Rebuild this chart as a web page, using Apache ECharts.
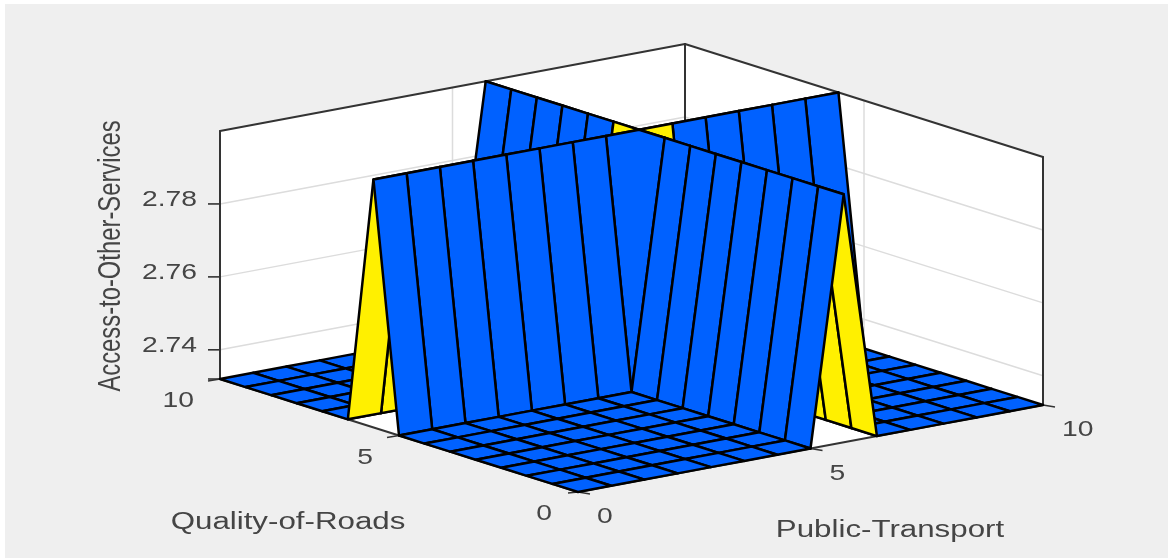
<!DOCTYPE html>
<html>
<head>
<meta charset="utf-8">
<style>html,body{margin:0;padding:0;background:#fff}#c{width:1168px;height:558px;filter:blur(0.5px)}</style>
<script src="https://cdn.jsdelivr.net/npm/echarts@6/dist/echarts.min.js"></script>
</head>
<body>
<div id="c"></div>
<script>
// ---- data ----
var publicTransport = [0, 0.714, 1.429, 2.143, 2.857, 3.571, 4.286, 5, 5.714, 6.429, 7.143, 7.857, 8.571, 9.286, 10];
var qualityOfRoads  = [0, 0.714, 1.429, 2.143, 2.857, 3.571, 4.286, 5, 5.714, 6.429, 7.143, 7.857, 8.571, 9.286, 10];
var rowLow  = [2.732, 2.732, 2.732, 2.732, 2.732, 2.732, 2.732, 2.732, 2.8, 2.732, 2.732, 2.732, 2.732, 2.732, 2.732];
var rowHigh = [2.8, 2.8, 2.8, 2.8, 2.8, 2.8, 2.8, 2.8, 2.8, 2.8, 2.8, 2.8, 2.8, 2.8, 2.8];
var accessToOtherServices = [
  rowLow, rowLow, rowLow, rowLow, rowLow, rowLow, rowLow, rowLow,
  rowHigh,
  rowLow, rowLow, rowLow, rowLow, rowLow, rowLow
];
var zTicks = [2.74, 2.76, 2.78];
var zTickLabels = ['2.74', '2.76', '2.78'];
var planTicks = [0, 5, 10];
var planTickLabels = ['0', '5', '10'];
var zLimits = [2.732, 2.8];
var planLimits = [0, 10];
var titles = { p: 'Public-Transport', q: 'Quality-of-Roads', z: 'Access-to-Other-Services' };

// ---- view: oblique projection of the MATLAB-style 3-D box ----
var view = { ox: 578, oy: 492, px: [46.5, -8.7], qy: [-35.8, -11.3], zh: 248 };
function project(p, q, z) {
  var t = (z - zLimits[0]) / (zLimits[1] - zLimits[0]);
  return [view.ox + p * view.px[0] + q * view.qy[0], view.oy + p * view.px[1] + q * view.qy[1] - t * view.zh];
}
var zLo = zLimits[0], zHi = zLimits[1], pMax = planLimits[1];
var BLUE = '#0061ff', YELLOW = '#fff000', AXIS = '#333333', GRID = '#dcdcdc', TEXT = '#454545';
var FONT = '22px "Liberation Sans", Arial, sans-serif';
var TITLE_FONT = '23px "Liberation Sans", Arial, sans-serif';
var STRETCH = 1.285;

// ---- derived tables ----
var cells = [];
for (var a = publicTransport.length - 2; a >= 0; a--) {
  for (var b = qualityOfRoads.length - 2; b >= 0; b--) {
    var r = accessToOtherServices;
    cells.push([publicTransport[a], publicTransport[a + 1], qualityOfRoads[b], qualityOfRoads[b + 1],
      r[b][a], r[b][a + 1], r[b + 1][a + 1], r[b + 1][a]]);
  }
}
function seg(p0, q0, z0, p1, q1, z1) { return [p0, q0, z0, p1, q1, z1]; }
var wallSegs = [];
zTicks.forEach(function (z) {
  wallSegs.push(seg(0, pMax, z, pMax, pMax, z), seg(pMax, pMax, z, pMax, 0, z));
});
planTicks.slice(1, 2).forEach(function (t) {
  wallSegs.push(seg(t, pMax, zLo, t, pMax, zHi), seg(pMax, t, zLo, pMax, t, zHi));
  wallSegs.push(seg(t, 0, zLo, t, pMax, zLo), seg(0, t, zLo, pMax, t, zLo));
});
var boxSegs = [
  seg(0, pMax, zLo, 0, pMax, zHi), seg(pMax, pMax, zLo, pMax, pMax, zHi), seg(pMax, 0, zLo, pMax, 0, zHi),
  seg(0, pMax, zHi, pMax, pMax, zHi), seg(pMax, pMax, zHi, pMax, 0, zHi),
  seg(0, 0, zLo, 0, pMax, zLo), seg(0, 0, zLo, pMax, 0, zLo)
];
var walls = [[0], [1], [2]];
var labels = [];
zTicks.forEach(function (z, k) { labels.push({ t: zTickLabels[k], p: 0, q: pMax, z: z, dx: -23, dy: -4, align: 'right' }); });
planTicks.forEach(function (v, k) {
  labels.push({ t: planTickLabels[k], p: 0, q: v, z: zLo, dx: -26, dy: 22, align: 'right' });
  labels.push({ t: planTickLabels[k], p: v, q: 0, z: zLo, dx: 19, dy: 25, align: 'left' });
});
var ticks = [];
zTicks.concat([zLo]).forEach(function (z) { ticks.push([0, pMax, z, -12, 1]); });
planTicks.forEach(function (v) {
  if (v > 0) ticks.push([0, v, zLo, -12, 3]);
  ticks.push([v, 0, zLo, 12, 3]);
});
ticks.push([0, 0, zLo, -10, 2]);

function xy(api, p, q, z) { return api.coord(project(p, q, z)); }
var base = { type: 'custom', coordinateSystem: 'cartesian2d', silent: true, animation: false, clip: false };
function series(data, render) {
  return Object.assign({}, base, { data: data, renderItem: render });
}
function lineSeries(data, colour, width) {
  return series(data, function (ctx, api) {
    var s = xy(api, api.value(0), api.value(1), api.value(2)), e = xy(api, api.value(3), api.value(4), api.value(5));
    return { type: 'line', shape: { x1: s[0], y1: s[1], x2: e[0], y2: e[1] }, style: { stroke: colour, lineWidth: width, lineCap: 'round' } };
  });
}
var option = {
  backgroundColor: '#ffffff',
  animation: false,
  grid: { left: 0, right: 0, top: 0, bottom: 0 },
  xAxis: { type: 'value', min: 0, max: 1168, show: false },
  yAxis: { type: 'value', min: 0, max: 558, inverse: true, show: false },
  graphic: [{ type: 'rect', z: -10, shape: { x: 5, y: 4, width: 1163, height: 554 }, style: { fill: '#efefef' }, silent: true }],
  series: [
    // white walls and floor
    series(walls, function (ctx, api) {
      var k = api.value(0), pts;
      if (k === 2) {
        pts = [xy(api, 0, 0, zLo), xy(api, pMax, 0, zLo), xy(api, pMax, pMax, zLo), xy(api, 0, pMax, zLo)];
      } else if (k === 0) {
        pts = [xy(api, 0, pMax, zLo), xy(api, pMax, pMax, zLo), xy(api, pMax, pMax, zHi), xy(api, 0, pMax, zHi)];
      } else {
        pts = [xy(api, pMax, pMax, zLo), xy(api, pMax, 0, zLo), xy(api, pMax, 0, zHi), xy(api, pMax, pMax, zHi)];
      }
      return { type: 'polygon', shape: { points: pts }, style: { fill: '#ffffff' } };
    }),
    lineSeries(wallSegs, GRID, 1.5),
    lineSeries(boxSegs, AXIS, 2),
    // tick marks
    series(ticks, function (ctx, api) {
      var s = xy(api, api.value(0), api.value(1), api.value(2));
      return { type: 'line', shape: { x1: s[0], y1: s[1], x2: s[0] + api.value(3), y2: s[1] + api.value(4) - 1 }, style: { stroke: AXIS, lineWidth: 1.6 } };
    }),
    // surface, painted back to front
    series(cells, function (ctx, api) {
      var p0 = api.value(0), p1 = api.value(1), q0 = api.value(2), q1 = api.value(3);
      var c = api.value(4);
      var pts = [xy(api, p0, q0, c), xy(api, p1, q0, api.value(5)), xy(api, p1, q1, api.value(6)), xy(api, p0, q1, api.value(7))];
      return { type: 'polygon', shape: { points: pts },
        style: { fill: c > (zLo + zHi) / 2 ? YELLOW : BLUE, stroke: '#000000', lineWidth: 2.5, lineJoin: 'round' } };
    }),
    // tick labels
    series(labels.map(function (l, k) { return [k]; }), function (ctx, api) {
      var l = labels[api.value(0)], s = xy(api, l.p, l.q, l.z);
      return { type: 'text', x: s[0] + l.dx, y: s[1] + l.dy, scaleX: STRETCH, scaleY: 1,
        style: { text: l.t, x: 0, y: 0, font: FONT, fill: TEXT, align: l.align, verticalAlign: 'middle' } };
    }),
    // axis titles
    series([[288, 523, 0, 1.36, 1, 0], [890, 531, 1, 1.36, 1, 0], [111, 256, 2, 1.035, 1.36, 1]], function (ctx, api) {
      var s = api.coord([api.value(0), api.value(1)]);
      var names = [titles.q, titles.p, titles.z];
      return { type: 'text', x: s[0], y: s[1], scaleX: api.value(3), scaleY: api.value(4),
        rotation: api.value(5) ? Math.PI / 2 : 0,
        style: { text: names[api.value(2)], x: 0, y: 0, font: TITLE_FONT, fill: TEXT, align: 'center', verticalAlign: 'middle' } };
    })
  ]
};
echarts.init(document.getElementById('c'), null, { renderer: 'canvas' }).setOption(option);
</script>
</body>
</html>
